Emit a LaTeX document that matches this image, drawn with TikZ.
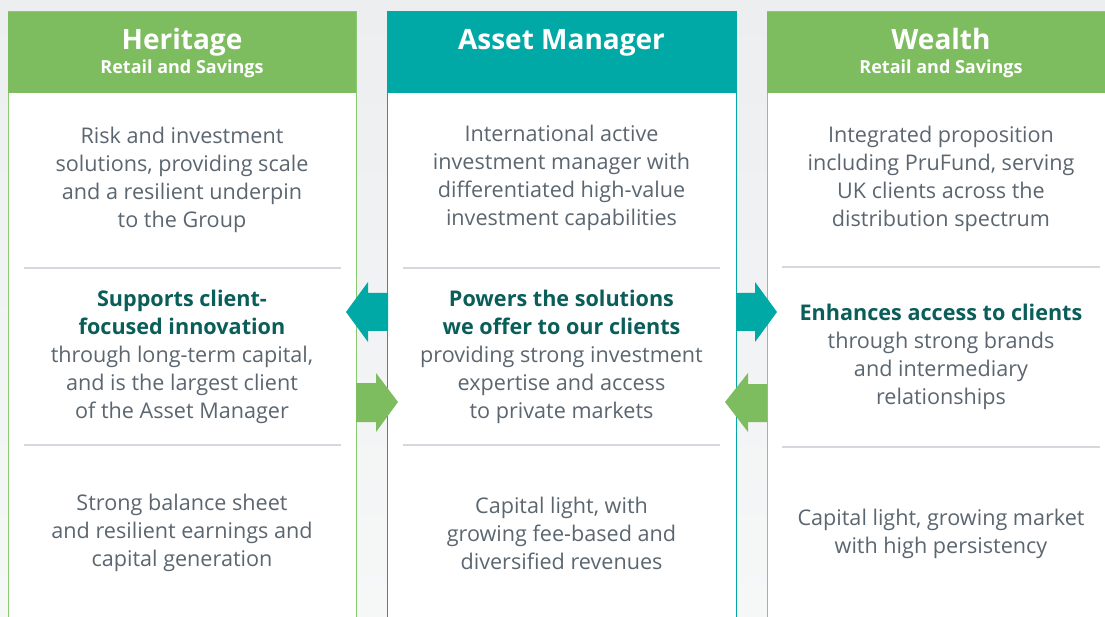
\documentclass[tikz,border=0pt]{standalone}
\usepackage{fontspec}
\setmainfont{Open Sans}
\definecolor{bgtop}{HTML}{EDEEF0}
\definecolor{bgbot}{HTML}{F6F7F7}
\definecolor{hgreen}{HTML}{7DBD5F}
\definecolor{bgreen}{HTML}{8CC870}
\definecolor{hteal}{HTML}{00A9A6}
\definecolor{dteal}{HTML}{0A5E59}
\definecolor{txtgrey}{HTML}{5B6670}
\definecolor{divgrey}{HTML}{D6D8DD}
\tikzset{
  colbox/.style={fill=white, line width=1pt},
  title/.style={text=white, font=\fontsize{28}{32}\selectfont\bfseries, anchor=base, inner sep=0pt},
  subtitle/.style={text=white, font=\fontsize{18}{20}\selectfont\bfseries, anchor=base, inner sep=0pt},
  body/.style={text=txtgrey, font=\fontsize{21.6}{28}\selectfont, align=center, anchor=center, inner sep=0pt},
  divider/.style={draw=divgrey, line width=1.3pt}
}
\newcommand{\hl}[1]{\textcolor{dteal}{\bfseries #1}}
\begin{document}
\begin{tikzpicture}[x=1pt,y=-1pt]
\useasboundingbox (0,0) rectangle (1105,617);
\clip (0,0) rectangle (1105,617);
\shade[top color=bgtop, bottom color=bgbot] (0,0) rectangle (1105,617);
% columns
\path[colbox, draw=bgreen] (8,12) rectangle (356,630);
\fill[hgreen] (8,12) rectangle (356,93);
\path[colbox, draw=hteal] (387,12) rectangle (736,630);
\fill[hteal] (387,12) rectangle (736,93);
\path[colbox, draw=bgreen] (767,12) rectangle (1120,630);
\fill[hgreen] (767,12) rectangle (1120,93);
% headers
\node[title] (htitle) at (182,50) {Heritage};
\node[subtitle] (hsub) at (182,74) {Retail and Savings};
\node[title] (atitle) at (561.5,50) {Asset Manager};
\node[title] (wtitle) at (941,50) {Wealth};
\node[subtitle] (wsub) at (941,74) {Retail and Savings};
% dividers
\coordinate (hd1a) at (24,268); \coordinate (hd1b) at (341,268);
\coordinate (hd2a) at (24,445); \coordinate (hd2b) at (341,445);
\coordinate (ad1a) at (403,268); \coordinate (ad1b) at (720,268);
\coordinate (ad2a) at (403,445); \coordinate (ad2b) at (720,445);
\coordinate (wd1a) at (782,267); \coordinate (wd1b) at (1100,267);
\coordinate (wd2a) at (782,447); \coordinate (wd2b) at (1100,447);
\draw[divider] (hd1a) -- (hd1b);
\draw[divider] (hd2a) -- (hd2b);
\draw[divider] (ad1a) -- (ad1b);
\draw[divider] (ad2a) -- (ad2b);
\draw[divider] (wd1a) -- (wd1b);
\draw[divider] (wd2a) -- (wd2b);
% body texts
\node[body] (htop) at (182,180) {Risk and investment\\solutions, providing scale\\and a resilient underpin\\to the Group};
\node[body] (atop) at (561.5,178) {International active\\investment manager with\\differentiated high-value\\investment capabilities};
\node[body] (wtop) at (941,179) {Integrated proposition\\including PruFund, serving\\UK clients across the\\distribution spectrum};
\node[body] (hmid) at (182,357) {\hl{Supports client-}\\\hl{focused innovation}\\through long-term capital,\\and is the largest client\\of the Asset Manager};
\node[body] (amid) at (561.5,357) {\hl{Powers the solutions}\\\hl{we offer to our clients}\\providing strong investment\\expertise and access\\to private markets};
\node[body] (wmid) at (941,357) {\hl{Enhances access to clients}\\through strong brands\\and intermediary\\relationships};
\node[body] (hbot) at (182,533) {Strong balance sheet\\and resilient earnings and\\capital generation};
\node[body] (abot) at (561.5,533) {Capital light, with\\growing fee-based and\\diversified revenues};
\node[body] (wbot) at (941,534) {Capital light, growing market\\with high persistency};
% block arrows
\fill[hteal] (388,293) -- (368,293) -- (368,282) -- (346,312) -- (368,342) -- (368,331) -- (388,331) -- cycle;
\fill[hgreen] (356,383) -- (376,383) -- (376,373) -- (398,402) -- (376,432) -- (376,422) -- (356,422) -- cycle;
\fill[hteal] (736,293) -- (755,293) -- (755,282) -- (777,312) -- (755,342) -- (755,331) -- (736,331) -- cycle;
\fill[hgreen] (767,384) -- (748,384) -- (748,373) -- (725,402) -- (748,432) -- (748,422) -- (767,422) -- cycle;
\end{tikzpicture}
\end{document}
